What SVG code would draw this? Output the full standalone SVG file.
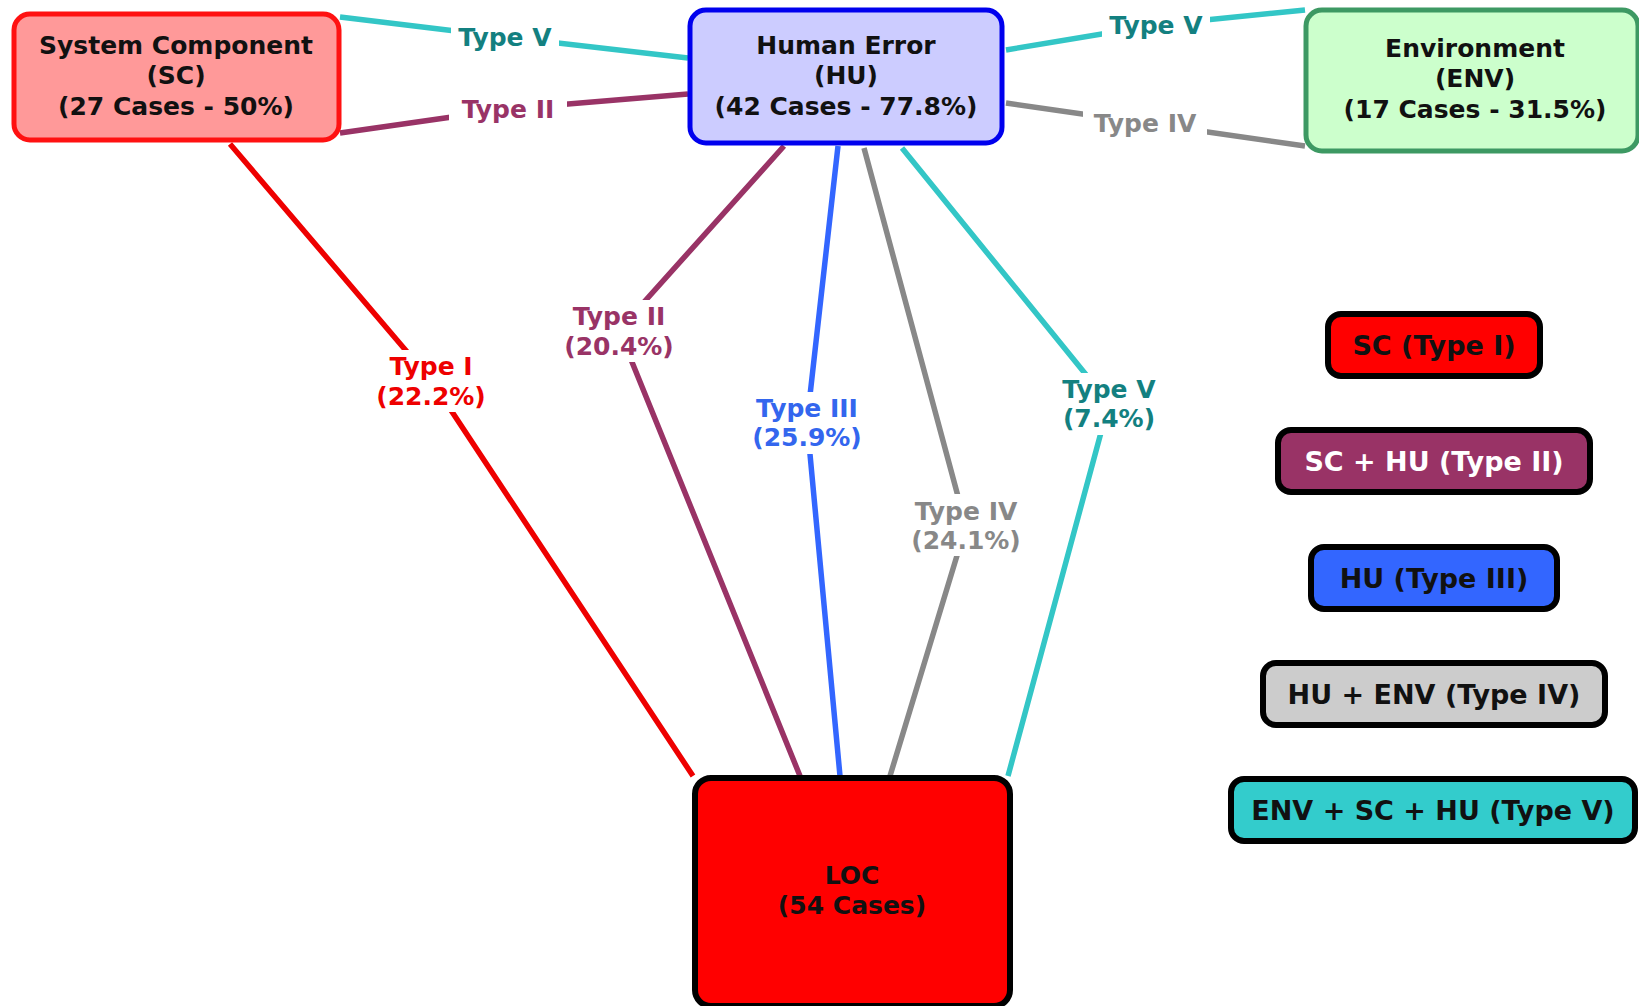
<svg xmlns="http://www.w3.org/2000/svg" width="1639" height="1006" viewBox="0 0 1639 1006">
  <style>
    text { font-family: "DejaVu Sans", Verdana, sans-serif; font-weight: bold; text-anchor: middle; dominant-baseline: central; }
    .node-text { font-size: 25px; fill: #111; }
    .legend-text { font-size: 27px; fill: #111; }
    .lbl { font-size: 25px; }
    .edge { fill: none; stroke-width: 5.5; stroke-linejoin: round; }
    .lbl-bg { fill: #ffffff; }
    .legend-box { stroke: #000; stroke-width: 6; }
  </style>

  <rect width="1639" height="1006" fill="#ffffff"/>

  <!-- connectors: each runs through its label point -->
  <g id="connectors">
    <polyline class="edge" stroke="#33c6c6" points="340,17 505,37 688,58"/>
    <polyline class="edge" stroke="#993366" points="340,133 508,109 688,94"/>
    <polyline class="edge" stroke="#33c6c6" points="1006,50 1156,25 1305,10"/>
    <polyline class="edge" stroke="#888888" points="1006,103 1145,123 1305,146"/>
    <polyline class="edge" stroke="#ee0000" points="230,144 431,380 693,776"/>
    <polyline class="edge" stroke="#993366" points="784,146 619,330 800,776"/>
    <polyline class="edge" stroke="#3366ff" points="838,146 807,422 840,776"/>
    <polyline class="edge" stroke="#888888" points="864,148 966,526 890,776"/>
    <polyline class="edge" stroke="#33c6c6" points="902,148 1109,403 1008,776"/>

    <!-- connector labels -->
    <rect class="lbl-bg" x="451" y="20" width="108" height="34"/>
    <text class="lbl" x="505" y="37" fill="#138080">Type V</text>
    <rect class="lbl-bg" x="449" y="92" width="118" height="34"/>
    <text class="lbl" x="508" y="109" fill="#993366">Type II</text>
    <rect class="lbl-bg" x="1102" y="8" width="108" height="34"/>
    <text class="lbl" x="1156" y="25" fill="#138080">Type V</text>
    <rect class="lbl-bg" x="1083" y="106" width="124" height="34"/>
    <text class="lbl" x="1145" y="123" fill="#888888">Type IV</text>

    <rect class="lbl-bg" x="366" y="350" width="130" height="62"/>
    <text class="lbl" x="431" y="366" fill="#ee0000">Type I</text>
    <text class="lbl" x="431" y="396" fill="#ee0000">(22.2%)</text>

    <rect class="lbl-bg" x="554" y="300" width="130" height="62"/>
    <text class="lbl" x="619" y="316" fill="#993366">Type II</text>
    <text class="lbl" x="619" y="346" fill="#993366">(20.4%)</text>

    <rect class="lbl-bg" x="740" y="392" width="134" height="62"/>
    <text class="lbl" x="807" y="408" fill="#3366ee">Type III</text>
    <text class="lbl" x="807" y="437" fill="#3366ee">(25.9%)</text>

    <rect class="lbl-bg" x="901" y="494" width="130" height="62"/>
    <text class="lbl" x="966" y="511" fill="#888888">Type IV</text>
    <text class="lbl" x="966" y="540" fill="#888888">(24.1%)</text>

    <rect class="lbl-bg" x="1050" y="373" width="118" height="62"/>
    <text class="lbl" x="1109" y="389" fill="#138080">Type V</text>
    <text class="lbl" x="1109" y="418" fill="#138080">(7.4%)</text>
  </g>

  <!-- cause nodes -->
  <g id="node-sc">
    <rect x="14" y="14" width="325" height="126" rx="16" fill="#ff9999" stroke="#ff1111" stroke-width="5"/>
    <text class="node-text" x="176" y="45">System Component</text>
    <text class="node-text" x="176" y="75">(SC)</text>
    <text class="node-text" x="176" y="106">(27 Cases - 50%)</text>
  </g>

  <g id="node-hu">
    <rect x="690" y="10" width="312" height="133" rx="16" fill="#ccccff" stroke="#0000ee" stroke-width="5"/>
    <text class="node-text" x="846" y="45">Human Error</text>
    <text class="node-text" x="846" y="75">(HU)</text>
    <text class="node-text" x="846" y="106">(42 Cases - 77.8%)</text>
  </g>

  <g id="node-env">
    <rect x="1306" y="10" width="332" height="141" rx="16" fill="#ccffcc" stroke="#3d9963" stroke-width="5"/>
    <text class="node-text" x="1475" y="48">Environment</text>
    <text class="node-text" x="1475" y="78">(ENV)</text>
    <text class="node-text" x="1475" y="109">(17 Cases - 31.5%)</text>
  </g>

  <g id="node-loc">
    <rect x="695" y="778" width="315" height="228" rx="16" fill="#ff0000" stroke="#000" stroke-width="6"/>
    <text class="node-text" x="852" y="875">LOC</text>
    <text class="node-text" x="852" y="905">(54 Cases)</text>
  </g>

  <!-- legend -->
  <g id="legend-type1">
    <rect class="legend-box" x="1328" y="314" width="212" height="62" rx="13" fill="#ff0000"/>
    <text class="legend-text" x="1434" y="345">SC (Type I)</text>
  </g>
  <g id="legend-type2">
    <rect class="legend-box" x="1278" y="430" width="312" height="62" rx="13" fill="#993366"/>
    <text class="legend-text" x="1434" y="461" style="fill:#ffffff">SC + HU (Type II)</text>
  </g>
  <g id="legend-type3">
    <rect class="legend-box" x="1311" y="547" width="246" height="62" rx="13" fill="#3366ff"/>
    <text class="legend-text" x="1434" y="578">HU (Type III)</text>
  </g>
  <g id="legend-type4">
    <rect class="legend-box" x="1263" y="663" width="342" height="62" rx="13" fill="#cccccc"/>
    <text class="legend-text" x="1434" y="694">HU + ENV (Type IV)</text>
  </g>
  <g id="legend-type5">
    <rect class="legend-box" x="1231" y="779" width="404" height="62" rx="13" fill="#33cccc"/>
    <text class="legend-text" x="1433" y="810">ENV + SC + HU (Type V)</text>
  </g>
</svg>
